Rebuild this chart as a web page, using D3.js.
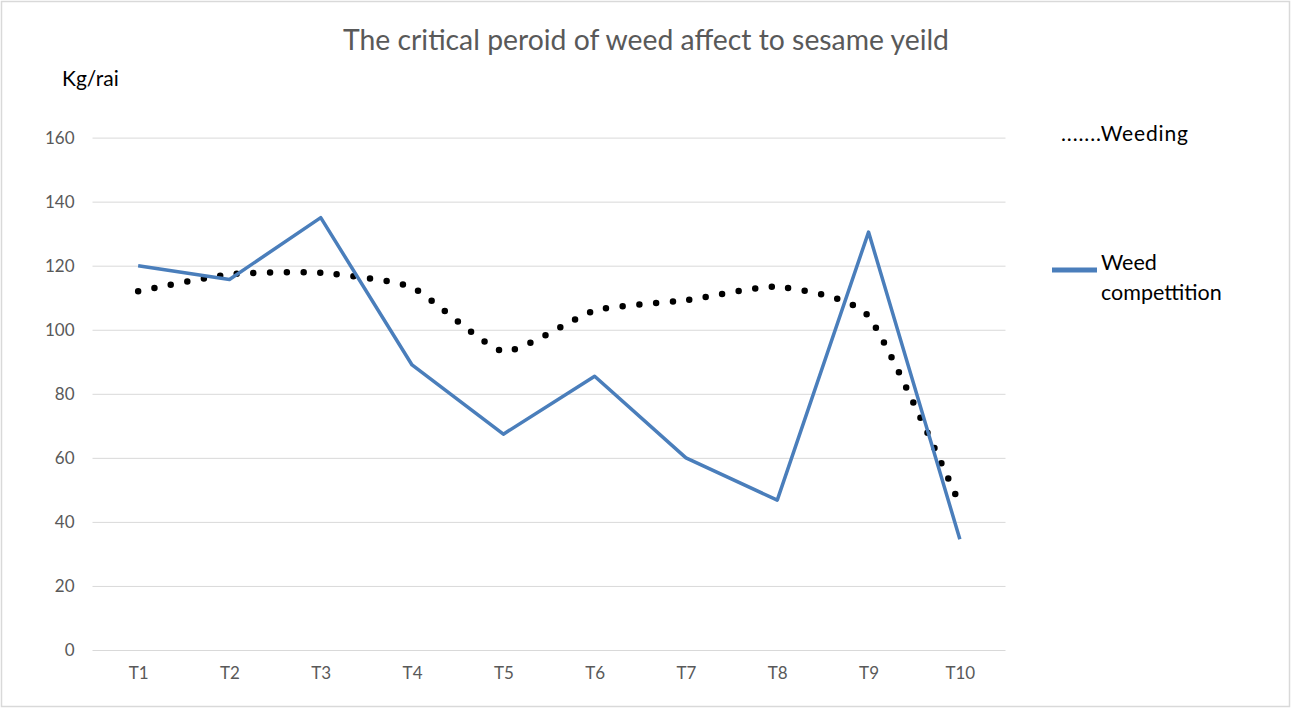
<!DOCTYPE html>
<html>
<head>
<meta charset="utf-8">
<script src="https://cdn.jsdelivr.net/npm/d3@7"></script>
<style>
  html, body { margin: 0; padding: 0; background: #ffffff; }
  svg { display: block; }
  text { font-family: Lato, "Open Sans", "Noto Sans", sans-serif; }
</style>
</head>
<body>
<svg id="chart" width="1291" height="708"></svg>
<script>
// Treatments along the x axis
const categories = ["T1", "T2", "T3", "T4", "T5", "T6", "T7", "T8", "T9", "T10"];
// Sesame yield (kg/rai) under weed competition
const weedCompetition = [120, 115.7, 135, 89, 67.4, 85.5, 60, 46.8, 130.5, 34.6];
// Sesame yield (kg/rai) with weeding
const weeding = [112, 117.3, 117.8, 113.2, 93.3, 106, 109.2, 113.4, 104.2, 45.5];
// Value axis ticks
const yTicks = [0, 20, 40, 60, 80, 100, 120, 140, 160];

const titleText = "The critical peroid of weed affect to sesame yeild";
const yUnit = "Kg/rai";

const svg = d3.select("#chart");

// Outer chart border
svg.append("rect")
  .attr("x", 1.5).attr("y", 1.5)
  .attr("width", 1288).attr("height", 705)
  .attr("fill", "#ffffff")
  .attr("stroke", "#d9d9d9")
  .attr("stroke-width", 1.5);

const x = d3.scalePoint()
  .domain(categories)
  .range([92.5, 1005.5])
  .padding(0.5);

const y = d3.scaleLinear()
  .domain([0, 160])
  .range([650, 137.6]);

// Horizontal gridlines + value labels
const yAxis = d3.axisLeft(y)
  .tickValues(yTicks)
  .tickSize(-(1005.5 - 92.5))
  .tickPadding(18);

const gy = svg.append("g")
  .attr("transform", "translate(92.5,0)")
  .call(yAxis);
gy.select(".domain").remove();
gy.selectAll(".tick line")
  .attr("stroke", "#d9d9d9")
  .attr("stroke-width", 1);
gy.selectAll(".tick text")
  .attr("fill", "#595959")
  .style("font-size", "17px")
  .style("font-family", "Lato, sans-serif");

// Category labels
const xAxis = d3.axisBottom(x).tickSize(0).tickPadding(17);
const gx = svg.append("g")
  .attr("transform", "translate(0,650)")
  .call(xAxis);
gx.select(".domain").remove();
gx.selectAll(".tick text")
  .attr("fill", "#595959")
  .style("font-size", "17px")
  .style("font-family", "Lato, sans-serif");

// Weeding: smoothed round-dot line
const smoothLine = d3.line()
  .x((d, i) => x(categories[i]))
  .y(d => y(d))
  .curve(d3.curveCardinal.tension(0.45));

svg.append("path")
  .datum(weeding)
  .attr("d", smoothLine)
  .attr("fill", "none")
  .attr("stroke", "#000000")
  .attr("stroke-width", 6.5)
  .attr("stroke-linecap", "round")
  .attr("stroke-dasharray", "0 16.7");

// Weed competition: straight segments
const straightLine = d3.line()
  .x((d, i) => x(categories[i]))
  .y(d => y(d));

svg.append("path")
  .datum(weedCompetition)
  .attr("d", straightLine)
  .attr("fill", "none")
  .attr("stroke", "#4a7ebb")
  .attr("stroke-width", 3.5)
  .attr("stroke-linejoin", "round");

// Title
svg.append("text")
  .attr("x", 646)
  .attr("y", 49.5)
  .attr("text-anchor", "middle")
  .attr("fill", "#595959")
  .style("font-size", "28px")
  .attr("textLength", 606)
  .attr("lengthAdjust", "spacingAndGlyphs")
  .text(titleText);

// Unit label
svg.append("text")
  .attr("x", 62)
  .attr("y", 85.5)
  .attr("fill", "#000000")
  .style("font-size", "21px")
  .text(yUnit);

// Legend
const legend = svg.append("g");
legend.append("text")
  .attr("x", 1061)
  .attr("y", 140.5)
  .attr("fill", "#000000")
  .style("font-size", "21px")
  .attr("textLength", 127)
  .attr("lengthAdjust", "spacing")
  .text(".......Weeding");

legend.append("line")
  .attr("x1", 1052).attr("x2", 1097)
  .attr("y1", 270).attr("y2", 270)
  .attr("stroke", "#4a7ebb")
  .attr("stroke-width", 5);

const lt = legend.append("text")
  .attr("fill", "#000000")
  .style("font-size", "21.5px");
lt.append("tspan").attr("x", 1101).attr("y", 269.5).text("Weed");
lt.append("tspan").attr("x", 1101).attr("y", 300).text("compettition");
</script>
</body>
</html>
